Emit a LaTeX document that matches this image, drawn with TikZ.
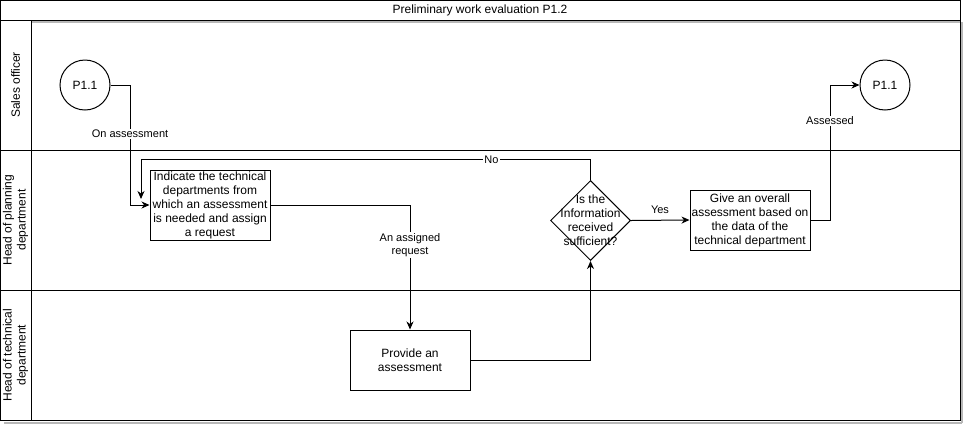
\documentclass[tikz,border=0pt]{standalone}
\usepackage{fontspec}
\setmainfont{Liberation Sans}
\usetikzlibrary{shapes.geometric,arrows.meta}
\tikzset{
  x=1pt,y=-1pt,
  frame/.style={line width=1pt,draw=black},
  shadowline/.style={line width=2pt,draw=black!28},
  task/.style={draw=black,line width=1pt,fill=white,minimum width=120pt,inner sep=1pt,align=center,font=\fontsize{12}{14}\selectfont},
  event/.style={circle,draw=black,line width=1pt,fill=white,minimum size=50pt,inner sep=0pt,font=\fontsize{12}{14}\selectfont},
  gate/.style={diamond,draw=black,line width=1pt,fill=white,minimum width=80pt,minimum height=80pt,inner sep=0pt},
  conn/.style={line width=1pt,draw=black},
  arr/.style={conn,-{Stealth[length=8pt,width=7pt,inset=2.5pt]}},
  elabel/.style={fill=white,inner sep=1pt,align=center,font=\fontsize{11}{13}\selectfont},
  lanelabel/.style={rotate=90,align=center,font=\fontsize{12}{14}\selectfont},
}
\begin{document}
\begin{tikzpicture}
\useasboundingbox (0,0) rectangle (963,424);
% shadows
\draw[shadowline] (31,21.5) -- (961,21.5);
\draw[shadowline] (962,22) -- (962,423);
\draw[shadowline] (4,422.5) -- (962,422.5);
% frame and lanes
\draw[frame] (0.5,0.5) rectangle (960.5,420);
\draw[frame] (0.5,20) -- (960.5,20);
\draw[frame] (0.5,150) -- (960.5,150);
\draw[frame] (0.5,290) -- (960.5,290);
\draw[frame] (31,20) -- (31,420);
\node[font=\fontsize{12}{14}\selectfont] (title) at (480,10) {Preliminary work evaluation P1.2};
\node[lanelabel] (l1) at (15.5,85) {Sales officer};
\node[lanelabel] (l2) at (15.5,220) {Head of planning\\department};
\node[lanelabel] (l3) at (15.5,355) {Head of technical\\department};
% nodes
\node[event] (c1) at (85,85) {P1.1};
\node[event] (c2) at (885,85) {P1.1};
\node[task,minimum height=70pt] (t1) at (210,205) {Indicate the technical\\departments from\\which an assessment\\is needed and assign\\a request};
\node[gate] (d) at (590.5,220.5) {};
\node[align=center,font=\fontsize{12}{14}\selectfont,inner sep=0pt] (dt) at (d.center) {Is the\\Information\\received\\sufficient?};
\node[task,minimum height=60pt] (t2) at (750,220) {Give an overall\\assessment based on\\the data of the\\technical department};
\node[task,minimum height=60pt] (t3) at (410,360) {Provide an\\assessment};
\coordinate (nend) at (141,199);
% connectors
\draw[arr] (c1.east) -- ++(20,0) |- (t1.west);
\node[elabel] (lb1) at (130,134) {On assessment};
\draw[arr] (t1.east) -| (t3.north);
\node[elabel] (lb2) at (410,245) {An assigned\\request};
\draw[arr] (t3.east) -| (d.south);
\draw[arr] (d.east) -- (t2.west);
\node[font=\fontsize{11}{13}\selectfont] (lb3) at (660,210) {Yes};
\draw[arr] (t2.east) -- ++(20,0) |- (c2.west);
\node[elabel] (lb4) at (830,121) {Assessed};
\draw[arr] (d.north) -- ++(0,-20.5) -| (nend);
\node[elabel] (lb5) at (491.5,160) {No};
\end{tikzpicture}
\end{document}
